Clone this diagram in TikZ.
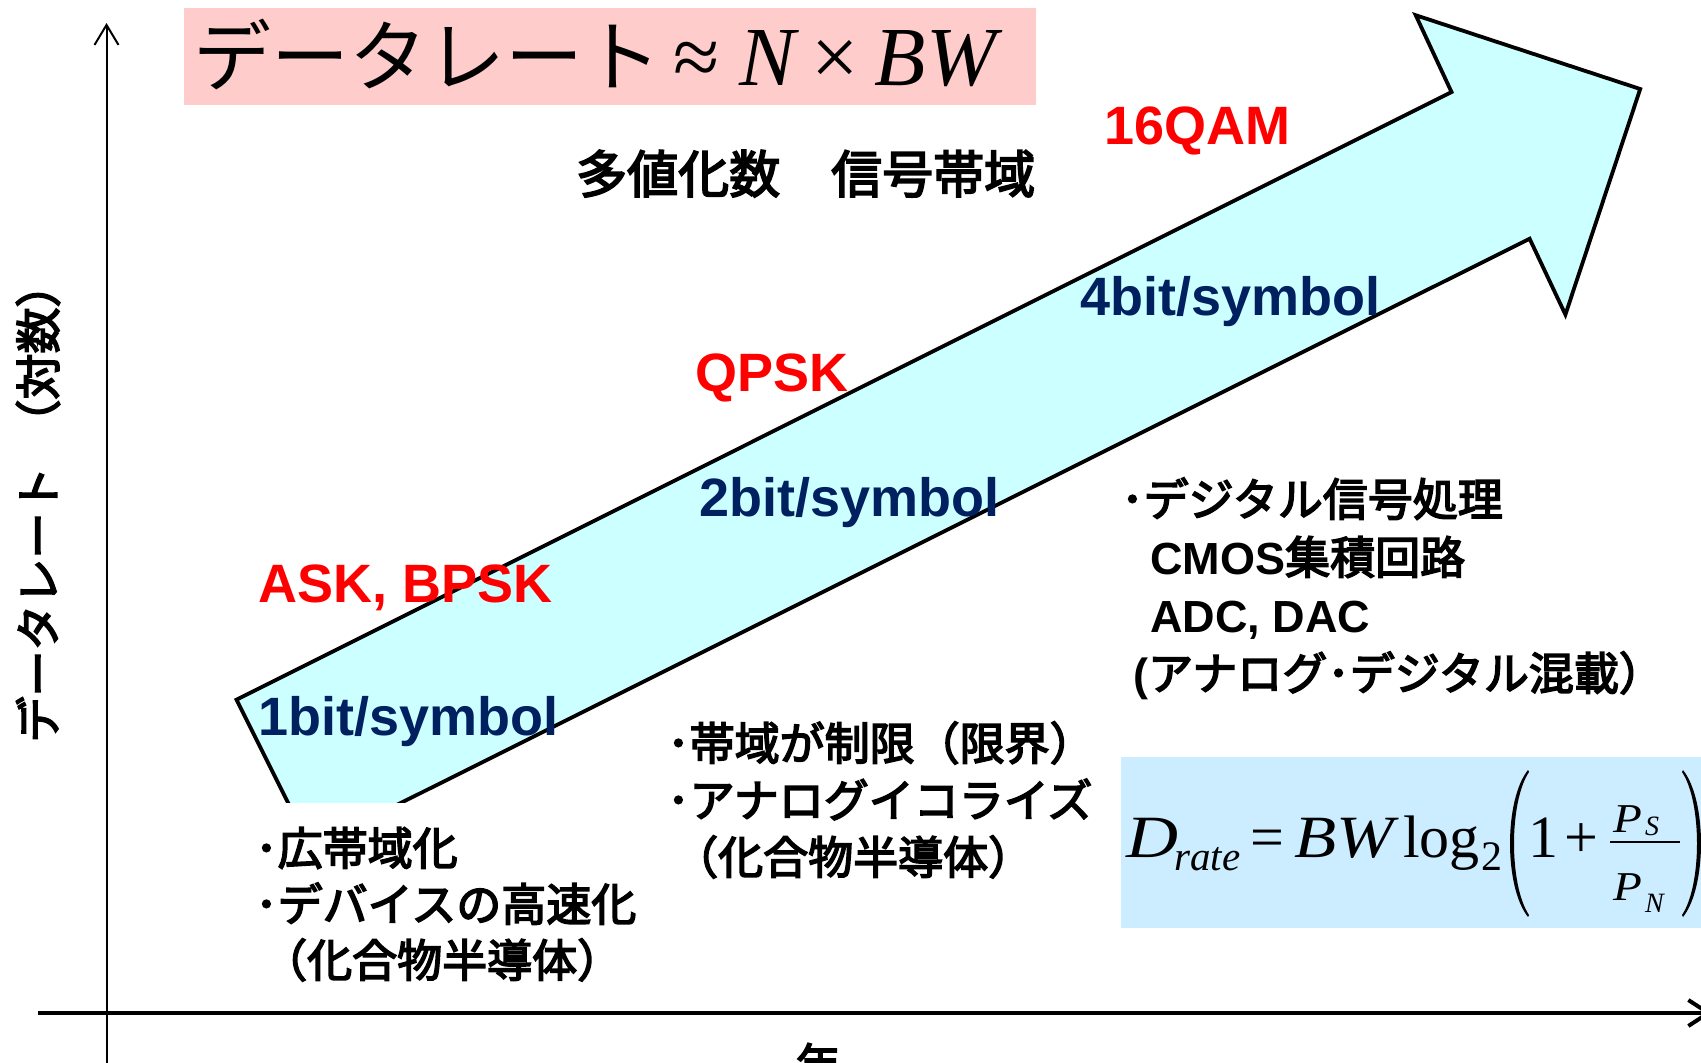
\documentclass[tikz,border=0pt]{standalone}
\usepackage{fontspec}
\usepackage{graphicx}
\usetikzlibrary{arrows.meta}
\newfontfamily\jp{Noto Sans CJK JP}
\newfontfamily\jpb[FakeBold=3.5]{Noto Sans CJK JP}
\newfontfamily\ars{Liberation Sans}
\newfontfamily\tms{Liberation Serif}
\newcommand\myfs[1]{\fontsize{#1}{#1}\selectfont}
\definecolor{arrowfill}{RGB}{204,255,255}
\definecolor{titlepink}{RGB}{255,204,204}
\definecolor{formblue}{RGB}{204,236,255}
\definecolor{navy}{RGB}{0,32,96}
\definecolor{mred}{RGB}{255,0,0}
\tikzset{
  lbl/.style={inner sep=0pt, anchor=base west},
  redlbl/.style={lbl, text=mred, font=\ars\bfseries\myfs{54}},
  bitlbl/.style={lbl, text=navy, font=\ars\bfseries\myfs{54}},
  jline/.style={inner sep=0pt, anchor=base west, font=\jpb\myfs{45}},
  fbig/.style={lbl, font=\tms\myfs{60}},
  fbigit/.style={lbl, font=\tms\itshape\myfs{60}},
  fmid/.style={lbl, font=\tms\myfs{42}},
  fmidit/.style={lbl, font=\tms\itshape\myfs{41}},
  fsmall/.style={lbl, font=\tms\itshape\myfs{28}},
  bigarrow/.style={line width=3.8pt, fill=arrowfill, draw=black, line join=miter},
  yaxis/.style={line width=2pt, -{Straight Barb[length=20pt,width=24pt]}},
  xaxis/.style={line width=4pt, -{Straight Barb[length=20pt,width=26pt]}}
}
\begin{document}
\begin{tikzpicture}[x=1pt,y=-1pt]
\useasboundingbox (0,0) rectangle (1701,1063);
% title box
\fill[titlepink] (184,8) rectangle (1036,105);
\node[lbl] (title) at (193,85) {{\jp\myfs{78}データレート}\hspace{12pt}{\tms\myfs{84}≈\hspace{20pt}\itshape N\hspace{16pt}\upshape ×\hspace{16pt}\itshape BW}};
% big arrow
\draw[bigarrow] (236.5,699.7) -- (1451.5,92) -- (1415.7,15.2) -- (1640.2,89)
  -- (1565.4,314.6) -- (1529.6,238.7) -- (310.7,848) -- cycle;
% white cover at bottom left
\fill[white] (250,803) rectangle (665,995);
% formula box
\fill[formblue] (1121,757) rectangle (1701,928);
\node[fbigit] (fD) at (1126,857) {\scalebox{1.2}[1]{D}};
\node[fmidit] (frate) at (1174,870) {rate};
\node[fbig] (feq) at (1250,857) {=};
\node[fbigit] (fBW) at (1294,857) {\scalebox{1.15}[1]{BW}};
\node[fbig] (flog) at (1403,857) {log};
\node[fmid] (ftwo) at (1481,870) {2};
\fill (1528,770) .. controls (1504,800) and (1504,887) .. (1528,917)
  -- (1529,915) .. controls (1509,885) and (1509,802) .. (1529,772) -- cycle;
\node[fbig] (fone) at (1528,857) {1};
\node[fbig] (fplus) at (1564,857) {+};
\coordinate (fl1) at (1610,842);
\coordinate (fl2) at (1680,842);
\draw[line width=2pt] (fl1) -- (fl2);
\node[fmidit] (fPs) at (1613,832) {\scalebox{1.15}[1]{P}};
\node[fsmall] (fS) at (1645,835) {S};
\node[fmidit] (fPn) at (1613,900) {\scalebox{1.15}[1]{P}};
\node[fsmall] (fN) at (1645,912) {N};
\fill (1683,770) .. controls (1707,800) and (1707,887) .. (1683,917)
  -- (1682,915) .. controls (1702,885) and (1702,802) .. (1682,772) -- cycle;
% labels
\node[jline, font=\jpb\myfs{51}] (hdr) at (576,193) {多値化数　信号帯域};
\node[redlbl] (qam) at (1104,144) {16QAM};
\node[redlbl] (qpsk) at (695,391) {QPSK};
\node[redlbl] (ask) at (258,602) {ASK, BPSK};
\node[bitlbl] (b1) at (258,735) {1bit/symbol};
\node[bitlbl] (b2) at (699,516) {2bit/symbol};
\node[bitlbl] (b4) at (1080,315) {4bit/symbol};
% right block
\node[jline] (r1) at (1121,516) {･デジタル信号処理};
\node[jline] (r2) at (1150,574) {{\ars\bfseries CMOS}集積回路};
\node[jline] (r3) at (1150,632) {{\ars\bfseries ADC, DAC}};
\node[jline] (r4) at (1133,690) {{\ars\bfseries (}アナログ･デジタル混載）};
% middle block
\node[jline] (m1) at (667,760) {･帯域が制限（限界）};
\node[jline] (m2) at (667,817) {･アナログイコライズ};
\node[jline] (m3) at (673,874) {（化合物半導体）};
% left block
\node[jline] (l1) at (255,865) {･広帯域化};
\node[jline] (l2) at (255,921) {･デバイスの高速化};
\node[jline] (l3) at (262,977) {（化合物半導体）};
% axes
\coordinate (yb) at (106.5,1070);
\coordinate (yt) at (106.5,23);
\coordinate (xl) at (38,1013);
\coordinate (xr) at (1712,1013);
\draw[yaxis] (yb) -- (yt);
\draw[xaxis] (xl) -- (xr);
\node[rotate=90, font=\jpb\myfs{46}, inner sep=0pt] (ylab) at (38,502) {データレート\hspace{21pt}（対数）};
\node[font=\jpb\myfs{45}, anchor=north, inner sep=0pt] (nen) at (818,1043) {年};
\end{tikzpicture}
\end{document}
